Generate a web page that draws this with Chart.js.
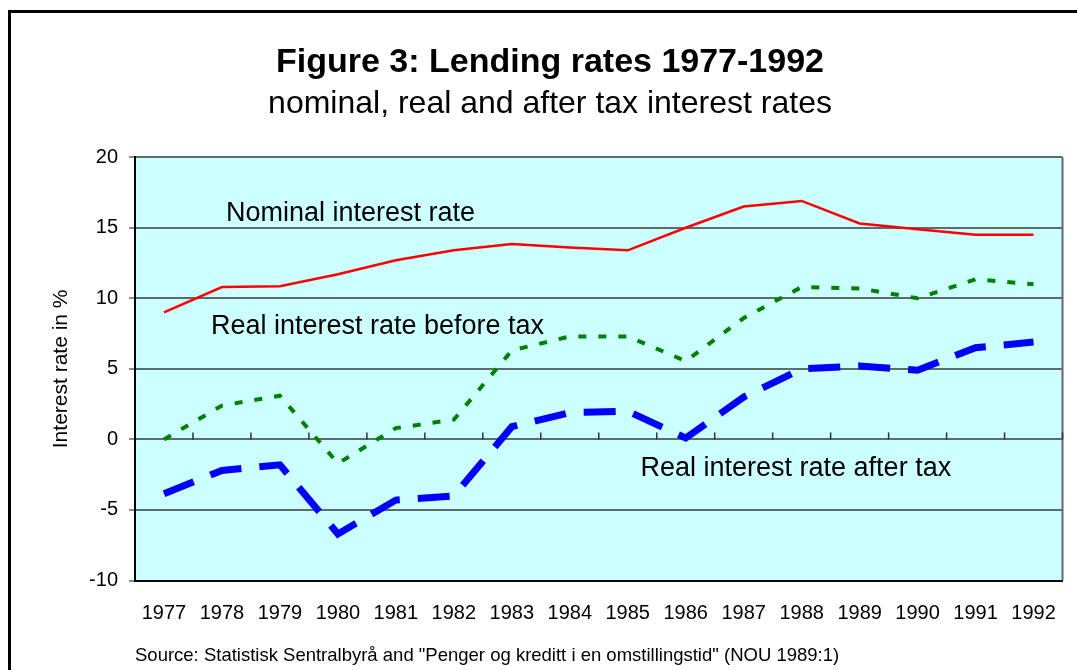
<!DOCTYPE html>
<html>
<head>
<meta charset="utf-8">
<script src="https://cdn.jsdelivr.net/npm/chart.js@4"></script>
<style>
  html, body { margin: 0; padding: 0; background: #fff; overflow: hidden; }
  #frame { position: absolute; left: 8px; top: 10px; width: 1200px; height: 800px;
           border-left: 3px solid #000; border-top: 3px solid #000; }
  #wrap { position: absolute; left: 0; top: 0; width: 1077px; height: 670px; }
</style>
</head>
<body>
<div id="frame"></div>
<div id="wrap"><canvas id="lendingChart"></canvas></div>
<script>
const years = ['1977', '1978', '1979', '1980', '1981', '1982', '1983', '1984',
               '1985', '1986', '1987', '1988', '1989', '1990', '1991', '1992'];
const nominalRate = [9.0, 10.8, 10.85, 11.7, 12.7, 13.4, 13.85, 13.6, 13.4, 15.0, 16.5, 16.9, 15.3, 14.9, 14.5, 14.5];
const realBeforeTax = [0.0, 2.4, 3.1, -1.7, 0.8, 1.4, 6.3, 7.3, 7.3, 5.55, 8.6, 10.8, 10.7, 10.0, 11.35, 11.0];
const realAfterTax = [-3.85, -2.2, -1.8, -6.7, -4.3, -4.0, 0.9, 1.9, 2.0, 0.1, 3.0, 5.0, 5.2, 4.9, 6.5, 6.9];
const yTicks = [-10, -5, 0, 5, 10, 15, 20];

const fontFamily = '"Liberation Sans", Arial, sans-serif';

// plot background, right edge and the small year ticks on the zero line
const plotDecor = {
  id: 'plotDecor',
  beforeDraw(chart) {
    const { ctx, chartArea: a } = chart;
    ctx.save();
    ctx.fillStyle = '#CCFFFF';
    ctx.fillRect(a.left, a.top, a.right - a.left, a.bottom - a.top);
    ctx.restore();
  },
  beforeDatasetsDraw(chart) {
    const { ctx, chartArea: a, scales } = chart;
    const x = scales.x, y = scales.y;
    ctx.save();
    ctx.strokeStyle = '#5f6a6a';
    ctx.lineWidth = 2;
    ctx.beginPath();
    ctx.moveTo(a.right, a.top);
    ctx.lineTo(a.right, a.bottom);
    ctx.stroke();
    const step = x.getPixelForValue(1) - x.getPixelForValue(0);
    const y0 = y.getPixelForValue(0);
    ctx.strokeStyle = '#333';
    ctx.lineWidth = 1.5;
    for (let i = 1; i <= years.length; i++) {
      const px = x.getPixelForValue(i) - step / 2;
      ctx.beginPath();
      ctx.moveTo(px, y0);
      ctx.lineTo(px, y0 - 7);
      ctx.stroke();
    }
    ctx.restore();
  },
  afterDatasetsDraw(chart) {
    const { ctx, scales } = chart;
    const x = scales.x, y = scales.y;
    const step = x.getPixelForValue(1) - x.getPixelForValue(0);
    const at = (i) => x.getPixelForValue(0) + i * step;
    ctx.save();
    ctx.fillStyle = '#000';
    ctx.font = '27px ' + fontFamily;
    ctx.textBaseline = 'middle';
    ctx.textAlign = 'left';
    ctx.fillText('Nominal interest rate', at(1.07), y.getPixelForValue(16));
    ctx.fillText('Real interest rate before tax', at(0.81), y.getPixelForValue(8.0));
    ctx.fillText('Real interest rate after tax', at(8.22), y.getPixelForValue(-2.1));
    ctx.restore();
  }
};

new Chart(document.getElementById('lendingChart'), {
  type: 'line',
  data: {
    labels: years,
    datasets: [
      {
        label: 'Nominal interest rate',
        data: nominalRate,
        borderColor: '#FF0000',
        borderWidth: 2.5,
        pointRadius: 0,
        tension: 0
      },
      {
        label: 'Real interest rate before tax',
        data: realBeforeTax,
        borderColor: '#008000',
        borderWidth: 4,
        borderDash: [8, 12],
        pointRadius: 0,
        tension: 0
      },
      {
        label: 'Real interest rate after tax',
        data: realAfterTax,
        borderColor: '#0000FF',
        borderWidth: 7,
        borderDash: [32, 18],
        pointRadius: 0,
        tension: 0
      }
    ]
  },
  options: {
    responsive: true,
    maintainAspectRatio: false,
    animation: false,
    layout: { padding: { left: 30, right: 7, top: 0, bottom: 5 } },
    plugins: {
      legend: { display: false },
      tooltip: { enabled: false },
      title: {
        display: true,
        text: 'Figure 3: Lending rates 1977-1992',
        color: '#000',
        font: { family: fontFamily, size: 34, weight: 'bold' },
        padding: { top: 42, bottom: 2 }
      },
      subtitle: {
        display: true,
        text: 'nominal, real and after tax interest rates',
        color: '#000',
        font: { family: fontFamily, size: 32 },
        padding: { top: 0, bottom: 34 }
      }
    },
    scales: {
      x: {
        offset: true,
        grid: { display: false, drawTicks: false },
        border: { display: true, color: '#000', width: 2 },
        ticks: {
          color: '#000',
          font: { family: fontFamily, size: 20 },
          padding: 21,
          maxRotation: 0,
          autoSkip: false
        },
        title: {
          display: true,
          align: 'start',
          text: 'Source: Statistisk Sentralbyrå and "Penger og kreditt i en omstillingstid" (NOU 1989:1)',
          color: '#000',
          font: { family: fontFamily, size: 18.5, lineHeight: 1.0 },
          padding: { top: 0, bottom: 0 }
        }
      },
      y: {
        min: -10,
        max: 20,
        afterBuildTicks(scale) {
          scale.ticks = yTicks.map(v => ({ value: v }));
        },
        afterFit(scale) {
          scale.width = 105;
        },
        grid: { color: '#5f6a6a', lineWidth: 2, tickLength: 6, tickColor: '#5f6a6a', tickWidth: 1.5 },
        border: { display: true, color: '#000', width: 2 },
        ticks: {
          color: '#000',
          font: { family: fontFamily, size: 20 },
          padding: 11
        },
        title: {
          display: true,
          text: 'Interest rate in %',
          color: '#000',
          font: { family: fontFamily, size: 21 },
          padding: { top: 19, bottom: 0 }
        }
      }
    }
  },
  plugins: [plotDecor]
});
</script>
</body>
</html>
